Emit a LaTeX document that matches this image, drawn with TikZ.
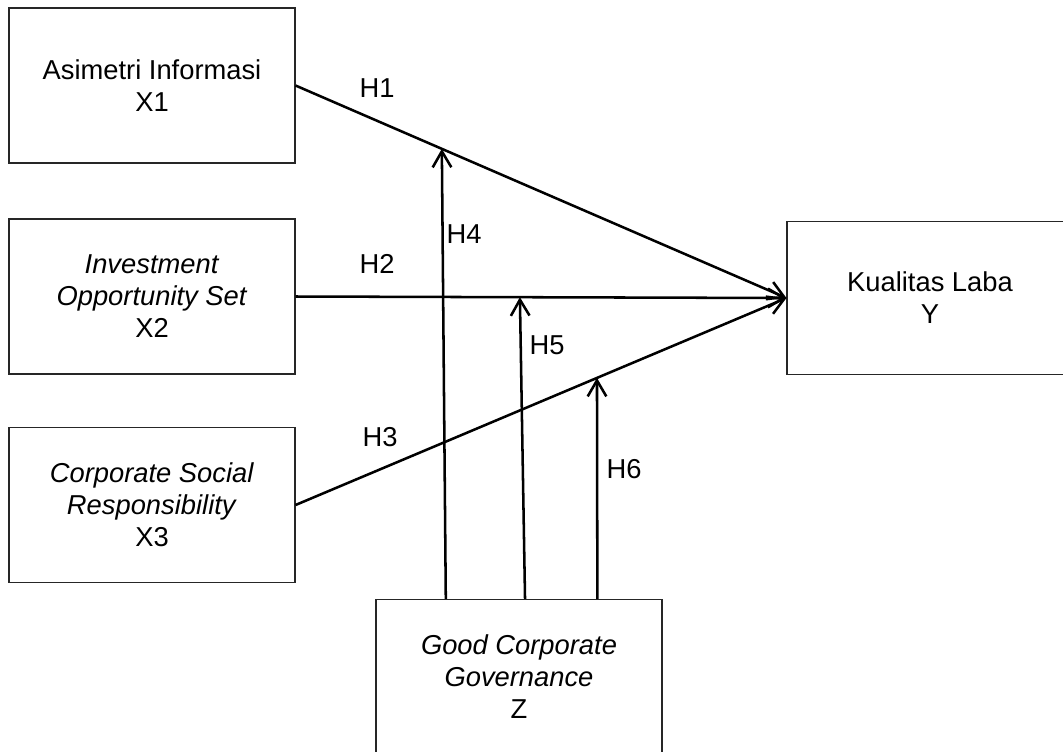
\documentclass[tikz,border=0pt]{standalone}
\usepackage{fontspec}
\setmainfont{Liberation Sans}
\usetikzlibrary{arrows.meta, calc}

\begin{document}
\begin{tikzpicture}[x=0.75pt,y=-0.75pt,
  var/.style={draw=black!85, line width=0.8pt, minimum width=214.5pt, minimum height=116.25pt,
    inner sep=0pt, align=center, font=\fontsize{20.5}{24}\selectfont},
  link/.style={-{Straight Barb[length=12pt,width=14pt]}, line width=1.9pt},
  hlab/.style={inner sep=0pt, font=\fontsize{20.5}{24}\selectfont}]
\useasboundingbox (0,0) rectangle (1063,751);
\clip (0,0) rectangle (1063,751);
% variables
\node[var] (x1) at (152,85.5) {Asimetri Informasi\\X1};
\node[var] (x2) at (152,296.5) {\textit{Investment}\\\textit{Opportunity Set}\\X2};
\node[var] (x3) at (152,505) {\textit{Corporate Social}\\\textit{Responsibility}\\X3};
\node[var, minimum height=114.75pt] (y) at (930,298) {Kualitas Laba\\Y};
\node[var] (z) at (519,677) {\textit{Good Corporate}\\\textit{Governance}\\Z};
% direct paths
\draw[link] (x1.east) -- coordinate[pos=0.298] (m1) (y.west);
\draw[link] (x2.east) -- coordinate[pos=0.457] (m2) (y.west);
\draw[link] (x3.east) -- coordinate[pos=0.614] (m3) (y.west);
% moderation
\coordinate (z1) at ($(z.north west)!0.245!(z.north east)$);
\coordinate (z2) at ($(z.north west)!0.521!(z.north east)$);
\coordinate (z3) at ($(z.north west)!0.773!(z.north east)$);
\draw[link] (z1) -- (m1);
\draw[link] (z2) -- (m2);
\draw[link] (z3) -- (m3);
% labels
\node[hlab] (h1) at (377,88) {H1};
\node[hlab] (h2) at (377,264) {H2};
\node[hlab] (h3) at (380,437) {H3};
\node[hlab] (h4) at (464,234.5) {H4};
\node[hlab] (h5) at (547,345) {H5};
\node[hlab] (h6) at (624,469) {H6};
\end{tikzpicture}
\end{document}
